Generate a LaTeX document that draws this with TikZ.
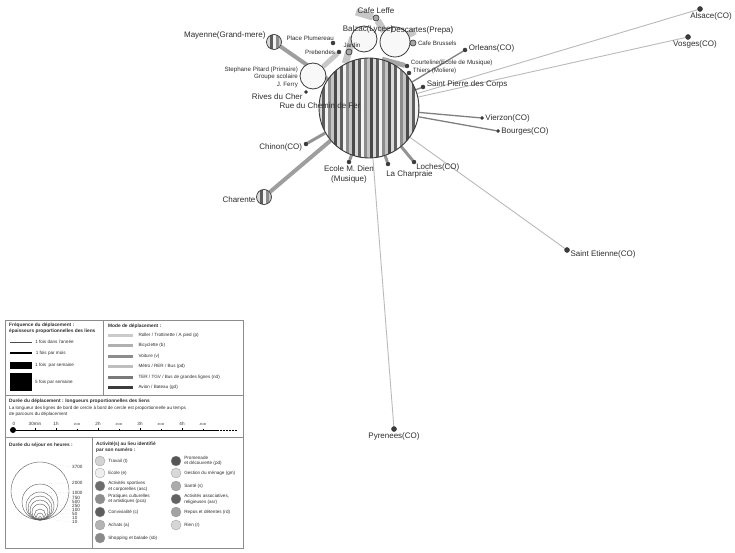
\documentclass[tikz,border=0pt]{standalone}
\usepackage{fontspec}
\setmainfont{Liberation Sans}
\usetikzlibrary{positioning, backgrounds}

\definecolor{inkgrey}{HTML}{2E2E2E}
\definecolor{rimgrey}{HTML}{3A3A3A}
\definecolor{placewhite}{HTML}{F8F8F8}
\definecolor{ringgrey}{HTML}{A8A8A8}
\definecolor{spotgrey}{HTML}{3C3C3C}
\definecolor{stripeA}{HTML}{D9D9D9}
\definecolor{stripeB}{HTML}{5E5E5E}
\definecolor{stripeC}{HTML}{F4F4F4}
\definecolor{stripeD}{HTML}{8C8C8C}
\definecolor{stripeE}{HTML}{C4C4C4}
\definecolor{stripeF}{HTML}{4A4A4A}
\definecolor{modeP}{HTML}{CACACA}
\definecolor{modeB}{HTML}{B0B0B0}
\definecolor{modeV}{HTML}{8C8C8C}
\definecolor{modeM}{HTML}{BEBEBE}
\definecolor{modeT}{HTML}{7A7A7A}
\definecolor{modeA}{HTML}{3C3C3C}
\definecolor{actT}{HTML}{D4D4D4}
\definecolor{actE}{HTML}{EFEFEF}
\definecolor{actASC}{HTML}{6C6C6C}
\definecolor{actPCA}{HTML}{8E8E8E}
\definecolor{actC}{HTML}{5E5E5E}
\definecolor{actA}{HTML}{B4B4B4}
\definecolor{actSB}{HTML}{8A8A8A}
\definecolor{actPD}{HTML}{555555}
\definecolor{actGM}{HTML}{D8D8D8}
\definecolor{actS}{HTML}{ABABAB}
\definecolor{actASR}{HTML}{626262}
\definecolor{actRD}{HTML}{A3A3A3}
\definecolor{actR}{HTML}{D6D6D6}

\newcommand{\placefont}{\fontsize{8}{9}\selectfont}
\newcommand{\smallplacefont}{\fontsize{6.2}{7.4}\selectfont}
\newcommand{\legfont}{\fontsize{4.6}{5.6}\selectfont}
\newcommand{\leghfont}{\fontsize{4.8}{5.8}\selectfont}
\newcommand{\tinylegfont}{\fontsize{3}{3.5}\selectfont}

\tikzset{
  stripes/.style={path picture={
    \foreach \s in {0,...,6}{
      \foreach \c [count=\k from 0] in {stripeA,stripeB,stripeC,stripeD,stripeE,stripeF}{
        \fill[\c] ([xshift={(\s*6+\k)*3pt}]path picture bounding box.south west)
          rectangle ([xshift={(\s*6+\k+1)*3pt}]path picture bounding box.north west);
      }}}}
}

\begin{document}
\begin{tikzpicture}[x=1pt, y=-1pt,
    hub/.style={circle, draw=rimgrey, line width=0.9pt, minimum size=100pt, inner sep=0pt, stripes},
    smallhub/.style={circle, draw=rimgrey, line width=0.7pt, minimum size=15pt, inner sep=0pt, stripes},
    place/.style={circle, draw=rimgrey, fill=placewhite, line width=0.8pt, inner sep=0pt},
    ring/.style={circle, draw=inkgrey, fill=ringgrey, line width=0.6pt, minimum size=6pt, inner sep=0pt},
    spot/.style={circle, draw=inkgrey, fill=spotgrey, minimum size=4pt, inner sep=0pt},
    lbl/.style={font=\placefont, text=inkgrey, inner sep=0.5pt},
    slbl/.style={font=\smallplacefont, text=inkgrey, inner sep=0.5pt},
    paleband/.style={line width=7pt, draw=black!22},
    greyband/.style={line width=5pt, draw=black!35},
    thicklink/.style={line width=4pt, draw=black!38},
    midlink/.style={line width=3pt, draw=black!42},
    darklink/.style={line width=1.3pt, draw=black!50},
    farlink/.style={line width=0.9pt, draw=black!27},
    legrule/.style={draw=black!45, line width=0.5pt},
    leghead/.style={font=\leghfont\bfseries, text=inkgrey, anchor=west, align=left, inner sep=0pt},
    legtxt/.style={font=\legfont, text=inkgrey, anchor=west, inner sep=0pt},
    leader/.style={draw=black!35, line width=0.3pt, dotted},
    sejourline/.style={draw=black!65, line width=0.4pt},
    actdot/.style={circle, draw=black!40, line width=0.3pt, minimum size=10pt, inner sep=0pt}]

  \useasboundingbox (0,0) rectangle (735,553);

  % Places
  \node[hub] (chemin) at (369,108) {};
  \node[place, minimum size=26pt] (balzac) at (364,39) {};
  \node[place, minimum size=30pt] (descartes) at (395,42) {};
  \node[place, minimum size=26pt] (stephane) at (313,76) {};
  \node[smallhub] (mayenne) at (274,42) {};
  \node[smallhub] (charente) at (264,197) {};
  \node[ring] (leffe) at (376,18) {};
  \node[ring] (jardin) at (349,52) {};
  \node[ring] (brussels) at (413,43) {};
  \node[spot] (plumereau) at (333,43) {};
  \node[spot] (prebendes) at (339,52) {};
  \node[spot, minimum size=3pt] (rives) at (306,92) {};
  \node[spot] (courteline) at (407,66) {};
  \node[spot] (thiers) at (409,73) {};
  \node[spot] (stpierre) at (423,87) {};
  \node[spot] (orleans) at (465,50) {};
  \node[spot, minimum size=3pt] (vierzon) at (482,118) {};
  \node[spot, minimum size=3pt] (bourges) at (498,131) {};
  \node[spot] (loches) at (414,162) {};
  \node[spot] (charpraie) at (388,164) {};
  \node[spot] (ecole) at (349,162) {};
  \node[spot] (chinon) at (306,144) {};
  \node[spot, minimum size=5pt] (stetienne) at (567,250) {};
  \node[spot, minimum size=5pt] (pyrenees) at (394,429) {};
  \node[spot, minimum size=5pt] (alsace) at (700,9) {};
  \node[spot, minimum size=5pt] (vosges) at (688,37) {};
  \coordinate (jband) at (353,37);
  \coordinate (lband) at (356,12);
  \coordinate (dband) at (415,31);

  % Labels
  \node[lbl] (chemint) at (320,106) {Rue du Chemin de Fer};
  \node[lbl, left=1pt of rives, yshift=-5pt] (rivest) {Rives du Cher};
  \node[slbl, left=1pt of stephane, align=right, yshift=-1pt] (stephanet) {Stephane Pitard (Primaire)\\Groupe scolaire\\J. Ferry};
  \node[lbl, left=0pt of mayenne, yshift=7pt] (mayennet) {Mayenne(Grand-mere)};
  \node[slbl, above left=0pt and -3pt of plumereau] (plumereaut) {Place Plumereau};
  \node[slbl, left=1pt of prebendes] (prebendest) {Prebendes};
  \node[slbl, above=0pt of jardin, xshift=3pt] (jardint) {Jardin};
  \node[lbl] (balzact) at (368,29) {Balzac(Lycee)};
  \node[lbl] (descartest) at (422,30) {Descartes(Prepa)};
  \node[lbl, above=0pt of leffe] (leffet) {Cafe Leffe};
  \node[slbl, right=1pt of brussels] (brusselst) {Cafe Brussels};
  \node[slbl, right=1pt of courteline, yshift=3pt] (courtelinet) {Courteline(Ecole de Musique)};
  \node[slbl, right=1pt of thiers, yshift=2pt] (thierst) {Thiers (Moliere)};
  \node[lbl, right=1pt of stpierre, yshift=2.5pt] (stpierret) {Saint Pierre des Corps};
  \node[lbl, right=1pt of orleans, yshift=1.5pt] (orleanst) {Orleans(CO)};
  \node[lbl, right=1pt of vierzon] (vierzont) {Vierzon(CO)};
  \node[lbl, right=1pt of bourges] (bourgest) {Bourges(CO)};
  \node[lbl, below right=-1pt and 0pt of loches] (lochest) {Loches(CO)};
  \node[lbl, below right=4pt and -4pt of charpraie] (charpraiet) {La Charpraie};
  \node[lbl, below=0.5pt of ecole, align=center, font=\fontsize{8}{10}\selectfont] (ecolet) {Ecole M. Dien\\(Musique)};
  \node[lbl, left=1pt of chinon, yshift=-3pt] (chinont) {Chinon(CO)};
  \node[lbl, left=0pt of charente, yshift=-3pt] (charentet) {Charente};
  \node[lbl, below=0pt of alsace, xshift=11pt] (alsacet) {Alsace(CO)};
  \node[lbl, below=0pt of vosges, xshift=7pt] (vosgest) {Vosges(CO)};
  \node[lbl, below right=-2pt and 1pt of stetienne] (stetiennet) {Saint Etienne(CO)};
  \node[lbl, below=0pt of pyrenees] (pyreneest) {Pyrenees(CO)};

  % Links
  \begin{scope}[on background layer]
    \fill[white] (0,0) rectangle (735,553);
    \draw[paleband] (jband) -- (chemin.118);
    \draw[paleband] (leffe) -- (lband);
    \draw[paleband] (leffe) -- (descartes.north west);
    \draw[paleband] (descartes) -- (dband);
    \draw[paleband, line width=5pt] (stephane) -- (prebendes);
    \draw[greyband] (chemin.75) -- (courteline);
    \draw[thicklink] (mayenne) -- (chemin);
    \draw[thicklink] (charente) -- (chemin);
    \foreach \t in {chinon, ecole, charpraie, loches}
      \draw[midlink] (chemin) -- (\t);
    \foreach \t in {orleans, stpierre, vierzon, bourges}
      \draw[darklink] (chemin) -- (\t);
    \foreach \t in {alsace, vosges, stetienne, pyrenees}
      \draw[farlink] (chemin) -- (\t);
  \end{scope}

  % Legend frame
  \draw[legrule] (5,320) rectangle (243,548);
  \draw[legrule] (103,320) -- (103,395);
  \draw[legrule] (5,395) -- (243,395);
  \draw[legrule] (5,437) -- (243,437);
  \draw[legrule] (92,437) -- (92,548);

  % Frequency
  \node[leghead] (freqt) at (9,328) {Fréquence du déplacement :\\épaisseurs proportionnelles des liens};
  \draw[black!70, line width=0.6pt] (10,342) -- (32,342) node[legtxt, right=3pt] (freq1) {1 fois dans l'année};
  \draw[black, line width=1.6pt] (10,353) -- (32,353) node[legtxt, right=3pt] (freq2) {1 fois par mois};
  \fill[black] (10,362) rectangle (32,369);
  \node[legtxt] (freq3) at (35,365.5) {1 fois~ par semaine};
  \fill[black] (10,373) rectangle (32,391);
  \node[legtxt] (freq4) at (35,382) {5 fois par semaine};

  % Mode
  \node[leghead] (modet) at (108,326) {Mode de déplacement :};
  \foreach \c/\t [count=\i] in {modeP/{Roller / Trottinette / A pied (p)}, modeB/{Bicyclette (b)}, modeV/{Voiture (v)}, modeM/{Métro / RER / Bus (pd)}, modeT/{TER / TGV / Bus de grandes lignes (nd)}, modeA/{Avion / Bateau (gd)}}
    \draw[\c, line width=3pt] (108,{324.5+10.5*\i}) -- ++(25,0) node[legtxt, right=4pt] (mode\i) {\t};

  % Travel time
  \node[leghead] (dureet) at (9,401) {Durée du déplacement : longueurs proportionnelles des liens};
  \node[legtxt, align=left] (dureetxt) at (9,411.5) {La longueur des lignes de bord de cercle à bord de cercle est proportionnelle au temps\\de parcours du déplacement};
  \node[circle, fill=black, minimum size=6pt, inner sep=0pt] (tzero) at (13,430) {};
  \coordinate (tend) at (217,430);
  \coordinate (tdash) at (238,430);
  \draw[line width=0.8pt] (tzero) -- (tend);
  \draw[line width=0.8pt, dash pattern=on 1.5pt off 1.5pt] (tend) -- (tdash);
  \foreach \t/\i in {0/0, 30min/1, 1h/2, 2h/4, 3h/6, 4h/8}{
    \draw[line width=0.4pt] ({14+21*\i},428) -- ++(0,2);
    \node[legtxt, anchor=center] (tick\i) at ({14+21*\i},423.5) {\t};
  }
  \foreach \t/\i in {1h30/3, 2h30/5, 3h30/7, 4h30/9}{
    \draw[line width=0.4pt] ({14+21*\i},428.5) -- ++(0,1.5);
    \node[legtxt, anchor=center, font=\tinylegfont] (tick\i) at ({14+21*\i},424) {\t};
  }

  % Stay duration
  \node[leghead] (sejourt) at (9,445) {Durée du séjour en heures :};
  \coordinate (sbase) at (40,520);
  \foreach \h/\r/\y [count=\i] in {3700/29/467, 2000/18/483, 1000/14/493, 750/12/497.5, 500/10/501.5, 250/8/505.5, 100/5.5/510, 50/3.5/514, 10/1.8/518, 10/0.8/522}{
    \draw[sejourline] ([yshift={\r*1pt}]sbase) circle[radius={\r*1pt}];
    \node[legtxt] (sejour\i) at (72,\y) {\h};
    \draw[leader] ([yshift={2*\r*1pt}]sbase) -- (sejour\i.west);
  }

  % Activities
  \node[leghead] (activt) at (96,447) {Activité(s) au lieu identifié\\par son numéro :};
  \foreach \c/\t/\y [count=\i] in {actT/{Travail (t)}/461, actE/{Ecole (e)}/473, actASC/{Activités sportives\\et corporelles (asc)}/486, actPCA/{Pratiques culturelles\\et artistiques (pca)}/499, actC/{Convivialité (c)}/512, actA/{Achats (a)}/525, actSB/{Shopping et balade (sb)}/538}{
    \node[actdot, fill=\c] (act\i) at (100,\y) {};
    \node[legtxt, align=left, right=3pt of act\i] (actt\i) {\t};
  }
  \foreach \c/\t/\y [count=\i from 8] in {actPD/{Promenade\\et découverte (pd)}/461, actGM/{Gestion du ménage (gm)}/473, actS/{Santé (s)}/486, actASR/{Activités associatives,\\religieuses (asr)}/499, actRD/{Repos et détentes (rd)}/512, actR/{Rien (r)}/525}{
    \node[actdot, fill=\c] (act\i) at (176,\y) {};
    \node[legtxt, align=left, right=3pt of act\i] (actt\i) {\t};
  }
\end{tikzpicture}
\end{document}
